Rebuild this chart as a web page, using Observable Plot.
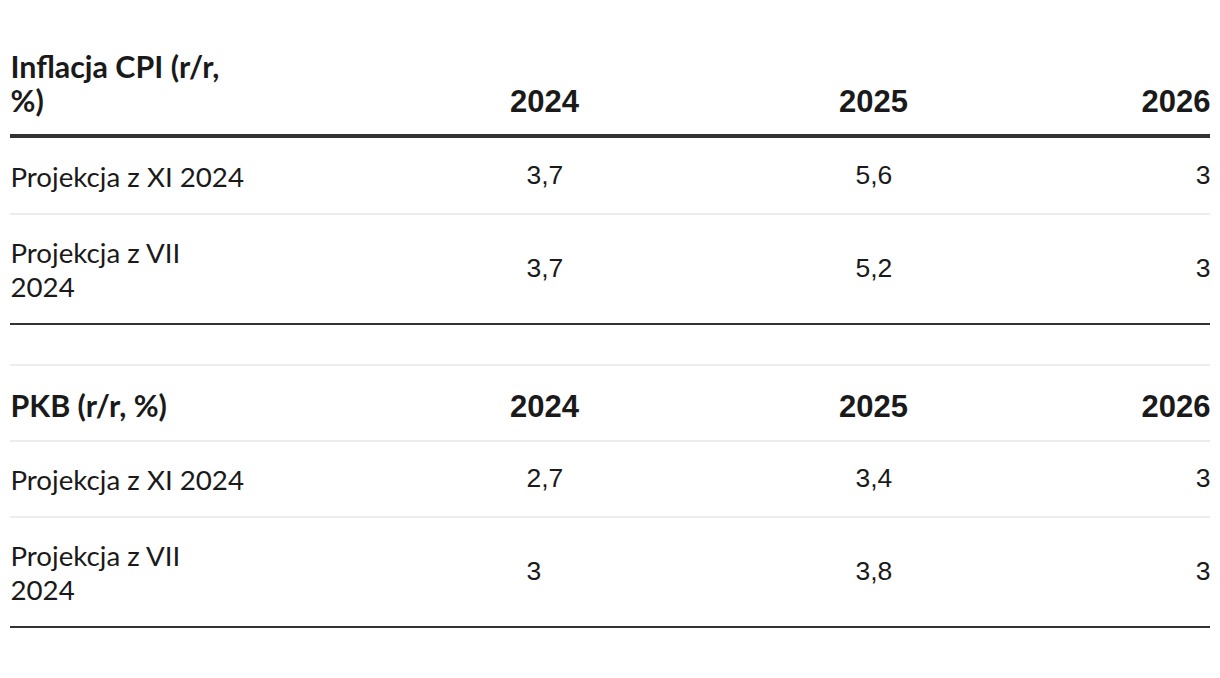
<!DOCTYPE html>
<html><head><meta charset="utf-8">
<script src="https://cdn.jsdelivr.net/npm/d3@7"></script>
<script src="https://cdn.jsdelivr.net/npm/@observablehq/plot@0.6"></script>
<style>body{margin:0;background:#fff}</style>
</head><body><div id="chart"></div>
<script>
// ---- data ----
const tableTitles = ["Inflacja CPI (r/r, %)", "PKB (r/r, %)"];
const years = ["2024", "2025", "2026"];
const rowLabels = ["Projekcja z XI 2024", "Projekcja z VII 2024"];
const cpiXI = [3.7, 5.6, 3];
const cpiVII = [3.7, 5.2, 3];
const gdpXI = [2.7, 3.4, 3];
const gdpVII = [3, 3.8, 3];

const tables = [
  {title: tableTitles[0], rows: [cpiXI, cpiVII]},
  {title: tableTitles[1], rows: [gdpXI, gdpVII]}
];

// ---- style / layout ----
const W = 1220, H = 678;
const LABEL_FONT = "Lato", NUM_FONT = "Liberation Sans";
const bodySize = 27.7, hdrSize = 30.4, numSize = 26.5, yrSize = 31;
const labelMax = 238;
const bodyLH = 34, hdrLH = 33.5, bodyPad = 21, hdrPad = 22;
const left = 10, right = 1210;
const colHeader = [{x: 544, anchor: "middle"}, {x: 873, anchor: "middle"}, {x: right, anchor: "end"}];
const colValue = [{x: 526, anchor: "start"}, {x: 855, anchor: "start"}, {x: right, anchor: "end"}];

const ctx = document.createElement("canvas").getContext("2d");
function wrap(text, font) {
  ctx.font = font;
  const words = text.split(" "); const lines = []; let cur = "";
  for (const w of words) {
    const t = cur ? cur + " " + w : w;
    if (cur && ctx.measureText(t).width > labelMax) { lines.push(cur); cur = w; } else cur = t;
  }
  lines.push(cur);
  return lines;
}
const fmt = v => String(v).replace(".", ",");

const hdrLabels = [], yrHeaders = [], bodyLabels = [], values = [], rules = [];
const hdrBlock = 76; // single-line header row height
let cursor = 27.5;
tables.forEach((tb, ti) => {
  if (ti > 0) { cursor += 41; rules.push({y: cursor, kind: "light"}); }
  const tl = wrap(tb.title, `bold ${hdrSize}px ${LABEL_FONT}`);
  const hH = hdrBlock + (tl.length - 1) * 32;
  const bottom = cursor + hH;
  const base = bottom - 24.5;
  hdrLabels.push({x: left, y: base, text: tl.join("\n")});
  years.forEach((yr, i) => yrHeaders.push({x: colHeader[i].x, y: base, text: yr, anchor: colHeader[i].anchor}));
  cursor = bottom;
  if (ti === 0) { rules.push({y: cursor, kind: "thick"}); cursor += 2; }
  else rules.push({y: cursor, kind: "light"});
  tb.rows.forEach((vals, ri) => {
    const ll = wrap(rowLabels[ri], `${bodySize}px ${LABEL_FONT}`);
    const rh = 2 * bodyPad + ll.length * bodyLH;
    const c = cursor + rh / 2;
    bodyLabels.push({x: left, y: c, text: ll.join("\n")});
    vals.forEach((v, i) => values.push({x: colValue[i].x, y: c, text: fmt(v), anchor: colValue[i].anchor}));
    cursor += rh;
    rules.push({y: cursor, kind: ri === tb.rows.length - 1 ? "dark" : "light"});
  });
});

const ink = "#1a1a1a";
const chart = Plot.plot({
  width: W, height: H, margin: 0,
  style: {background: "#fff"},
  x: {domain: [0, W], range: [0, W], axis: null},
  y: {domain: [0, H], range: [0, H], axis: null},
  marks: [
    Plot.ruleY(rules.filter(d => d.kind === "light"), {y: "y", x1: left, x2: right, stroke: "#e6e6e6", strokeWidth: 1.5}),
    Plot.ruleY(rules.filter(d => d.kind === "dark"), {y: "y", x1: left, x2: right, stroke: "#333", strokeWidth: 2}),
    Plot.ruleY(rules.filter(d => d.kind === "thick"), {y: "y", x1: left, x2: right, stroke: "#333", strokeWidth: 4}),
    Plot.text(hdrLabels, {x: "x", y: "y", text: "text", textAnchor: "start", lineAnchor: "bottom", lineHeight: hdrLH / hdrSize, fontFamily: LABEL_FONT, fontWeight: "bold", fontSize: hdrSize, fill: ink}),
    Plot.text(yrHeaders.filter(d => d.anchor === "middle"), {x: "x", y: "y", text: "text", textAnchor: "middle", lineAnchor: "bottom", fontFamily: NUM_FONT, fontWeight: "bold", fontSize: yrSize, fill: ink}),
    Plot.text(yrHeaders.filter(d => d.anchor === "end"), {x: "x", y: "y", text: "text", textAnchor: "end", lineAnchor: "bottom", fontFamily: NUM_FONT, fontWeight: "bold", fontSize: yrSize, fill: ink}),
    Plot.text(bodyLabels, {x: "x", y: "y", text: "text", textAnchor: "start", lineAnchor: "middle", lineHeight: bodyLH / bodySize, fontFamily: LABEL_FONT, fontSize: bodySize, fill: ink}),
    Plot.text(values.filter(d => d.anchor === "start"), {x: "x", y: "y", text: "text", textAnchor: "start", lineAnchor: "middle", fontFamily: NUM_FONT, fontSize: numSize, fill: ink}),
    Plot.text(values.filter(d => d.anchor === "end"), {x: "x", y: "y", text: "text", textAnchor: "end", lineAnchor: "middle", fontFamily: NUM_FONT, fontSize: numSize, fill: ink})
  ]
});
document.getElementById("chart").appendChild(chart);
</script>
</body></html>
